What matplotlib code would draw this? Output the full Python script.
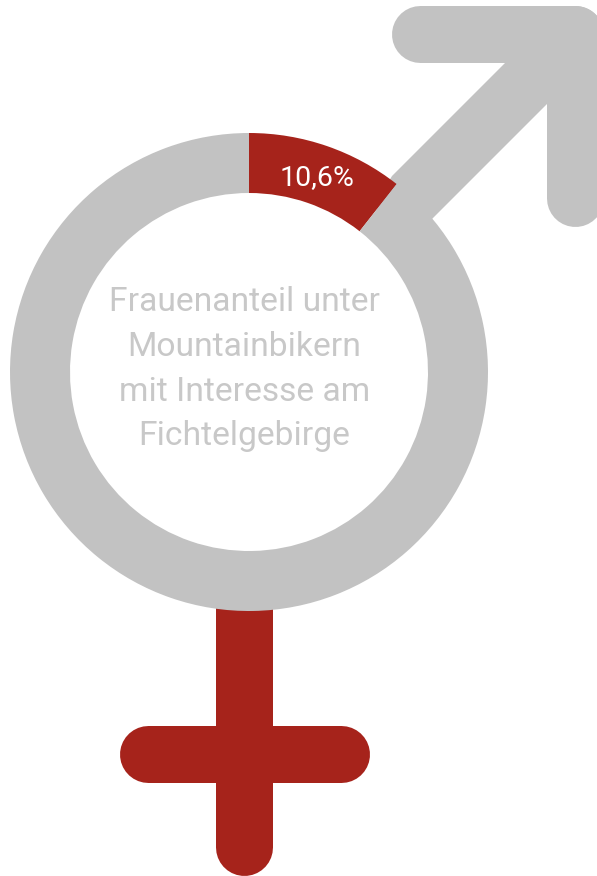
import matplotlib
matplotlib.use("Agg")
import matplotlib.pyplot as plt
from matplotlib.patches import Polygon

###   DONNEES   ###
anteil_frauen = [10.6]
anteil_rest = [89.4]
wert_label = "10,6%"
titel_zeilen = ["Frauenanteil unter", "Mountainbikern", "mit Interesse am", "Fichtelgebirge"]

ROT = "#a6231b"
GRAU = "#c2c2c2"
GRAU_TEXT = "#c8c8c8"

W, H = 597, 876
fig = plt.figure(figsize=(W / 100, H / 100), dpi=100)
ax = fig.add_axes([0, 0, 1, 1])

# Kreuz (Frauensymbol)
ax.plot([244, 244], [600, 847], color=ROT, lw=57 * 0.72, solid_capstyle="round", zorder=1)
ax.plot([148, 340.5], [754, 754], color=ROT, lw=57 * 0.72, solid_capstyle="round", zorder=1)

# Pfeil (Maennersymbol)
ax.plot([420, 575], [34, 34], color=GRAU, lw=57 * 0.72, solid_capstyle="round", zorder=1)
ax.plot([575, 575], [34, 198], color=GRAU, lw=57 * 0.72, solid_capstyle="round", zorder=1)
ax.add_patch(Polygon([[392, 176], [506, 62], [575, 34], [547, 104], [432, 219], [385, 225], [375, 205]],
                     color=GRAU, lw=0, zorder=1))

# Ring als Tortendiagramm (y-Achse invertiert, daher Start bei 270 Grad)
ax.pie(anteil_frauen + anteil_rest, colors=[ROT, GRAU], startangle=270, counterclock=True,
       radius=239, center=(249, 372), frame=True,
       wedgeprops=dict(width=60, linewidth=0, zorder=2))
ax.set_xlim(0, W)
ax.set_ylim(H, 0)
ax.set_aspect("auto")
ax.axis("off")

ax.text(317, 178, wert_label, color="white", fontsize=20.5, family="Roboto", ha="center", va="center", zorder=3)
for i, z in enumerate(titel_zeilen):
    ax.text(244.5, 302 + i * 44.8, z, color=GRAU_TEXT, fontsize=24.2, family="Roboto", ha="center", va="center", zorder=3)

fig.savefig("out.png", dpi=100)
